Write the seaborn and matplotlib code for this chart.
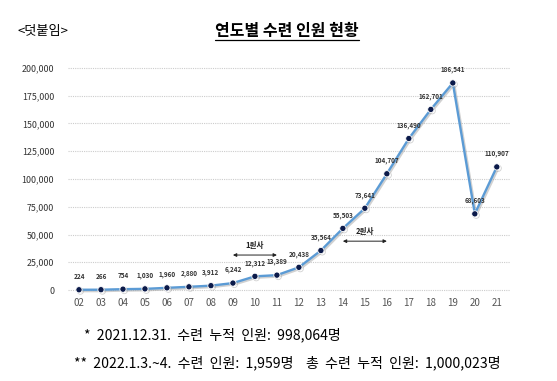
import numpy as np
import pandas as pd
import matplotlib
matplotlib.use("Agg")
import matplotlib.pyplot as plt
import matplotlib.patheffects as pe
import seaborn as sns

# 연도별 수련 인원
years = ["02", "03", "04", "05", "06", "07", "08", "09", "10", "11",
         "12", "13", "14", "15", "16", "17", "18", "19", "20", "21"]
trainees = [224, 266, 754, 1030, 1960, 2880, 3912, 6242, 12312, 13389,
            20438, 35564, 55503, 73641, 104707, 136490, 162701, 186541, 68603, 110907]
y_ticks = [0, 25000, 50000, 75000, 100000, 125000, 150000, 175000, 200000]

# 원사 구간 (시작 연도, 끝 연도, 높이, 라벨)
phase_labels = ["1원사", "2원사"]
phase_start = ["09", "14"]
phase_end = ["11", "16"]
phase_level = [31500, 44000]

sns.set_theme(style="white")
plt.rcParams["font.family"] = ["Noto Sans CJK KR", "DejaVu Sans"]

df = pd.DataFrame({"idx": np.arange(len(years)), "year": years, "count": trainees})

fig = plt.figure(figsize=(5.57, 3.81), dpi=100)
ax = fig.add_axes([68 / 557, (381 - 292) / 381, 442 / 557, 226 / 381])

line_color = "#5b9bd5"
sns.lineplot(data=df, x="idx", y="count", ax=ax, color=line_color, linewidth=1.7,
             marker="o", markersize=4.5, markerfacecolor="#0b1a4a",
             markeredgecolor="white", markeredgewidth=0.6, zorder=3)
for ln in ax.lines:
    ln.set_path_effects([pe.SimpleLineShadow(offset=(1, -1), shadow_color="#999999", alpha=0.45),
                         pe.Normal()])
    ln.set_clip_on(False)

for i, v in enumerate(trainees):
    ax.annotate(f"{v:,}", (i, v), xytext=(0, 7), textcoords="offset points",
                ha="center", va="bottom", fontsize=4.6, color="#333333", fontweight="bold")

for lab, s, e, lv in zip(phase_labels, phase_start, phase_end, phase_level):
    xs = years.index(s)
    xe = years.index(e)
    ax.annotate("", xy=(xs, lv), xytext=(xe, lv),
                arrowprops=dict(arrowstyle="<|-|>", color="#222222", lw=0.7,
                                mutation_scale=5, shrinkA=0, shrinkB=0))
    ax.text((xs + xe) / 2, lv + 4500, lab, ha="center", va="bottom",
            fontsize=5.5, color="#222222", fontweight="bold")

ax.set_xlim(-0.5, 19.6)
ax.set_ylim(-1800, 201800)
ax.set_yticks(y_ticks)
ax.set_yticklabels([f"{t:,}" for t in y_ticks])
ax.set_xticks(range(len(years)))
ax.set_xticklabels(years)
ax.tick_params(axis="y", labelsize=6.4, colors="#333333", length=0, pad=10)
ax.tick_params(axis="x", labelsize=7, colors="#555555", length=0, pad=4)
ax.set_xlabel("")
ax.set_ylabel("")
ax.grid(axis="y", color="#cccccc", linestyle=(0, (1, 1)), linewidth=0.8)
ax.set_axisbelow(True)
for sp in ax.spines.values():
    sp.set_visible(False)

# 제목
t = fig.text(287 / 557, 1 - 31 / 381, "연도별 수련 인원 현황", ha="center", va="center",
             fontsize=11.5, fontweight="bold", color="black")
fig.canvas.draw()
bb = t.get_window_extent()
fig.add_artist(plt.Line2D([bb.x0 / 557, bb.x1 / 557], [(bb.y0 - 1) / 381, (bb.y0 - 1) / 381],
                          color="black", linewidth=0.9))
fig.text(18 / 557, 1 - 31 / 381, "<덧붙임>", ha="left", va="center", fontsize=9.5, color="black")

fig.text(84 / 557, 1 - 335 / 381, "*  2021.12.31.  수련  누적  인원:  998,064명",
         ha="left", va="center", fontsize=10.1, color="black")
fig.text(74 / 557, 1 - 363 / 381, "**  2022.1.3.~4.  수련  인원:  1,959명    총  수련  누적  인원:  1,000,023명",
         ha="left", va="center", fontsize=10.1, color="black")

fig.savefig("out.png", dpi=100)
